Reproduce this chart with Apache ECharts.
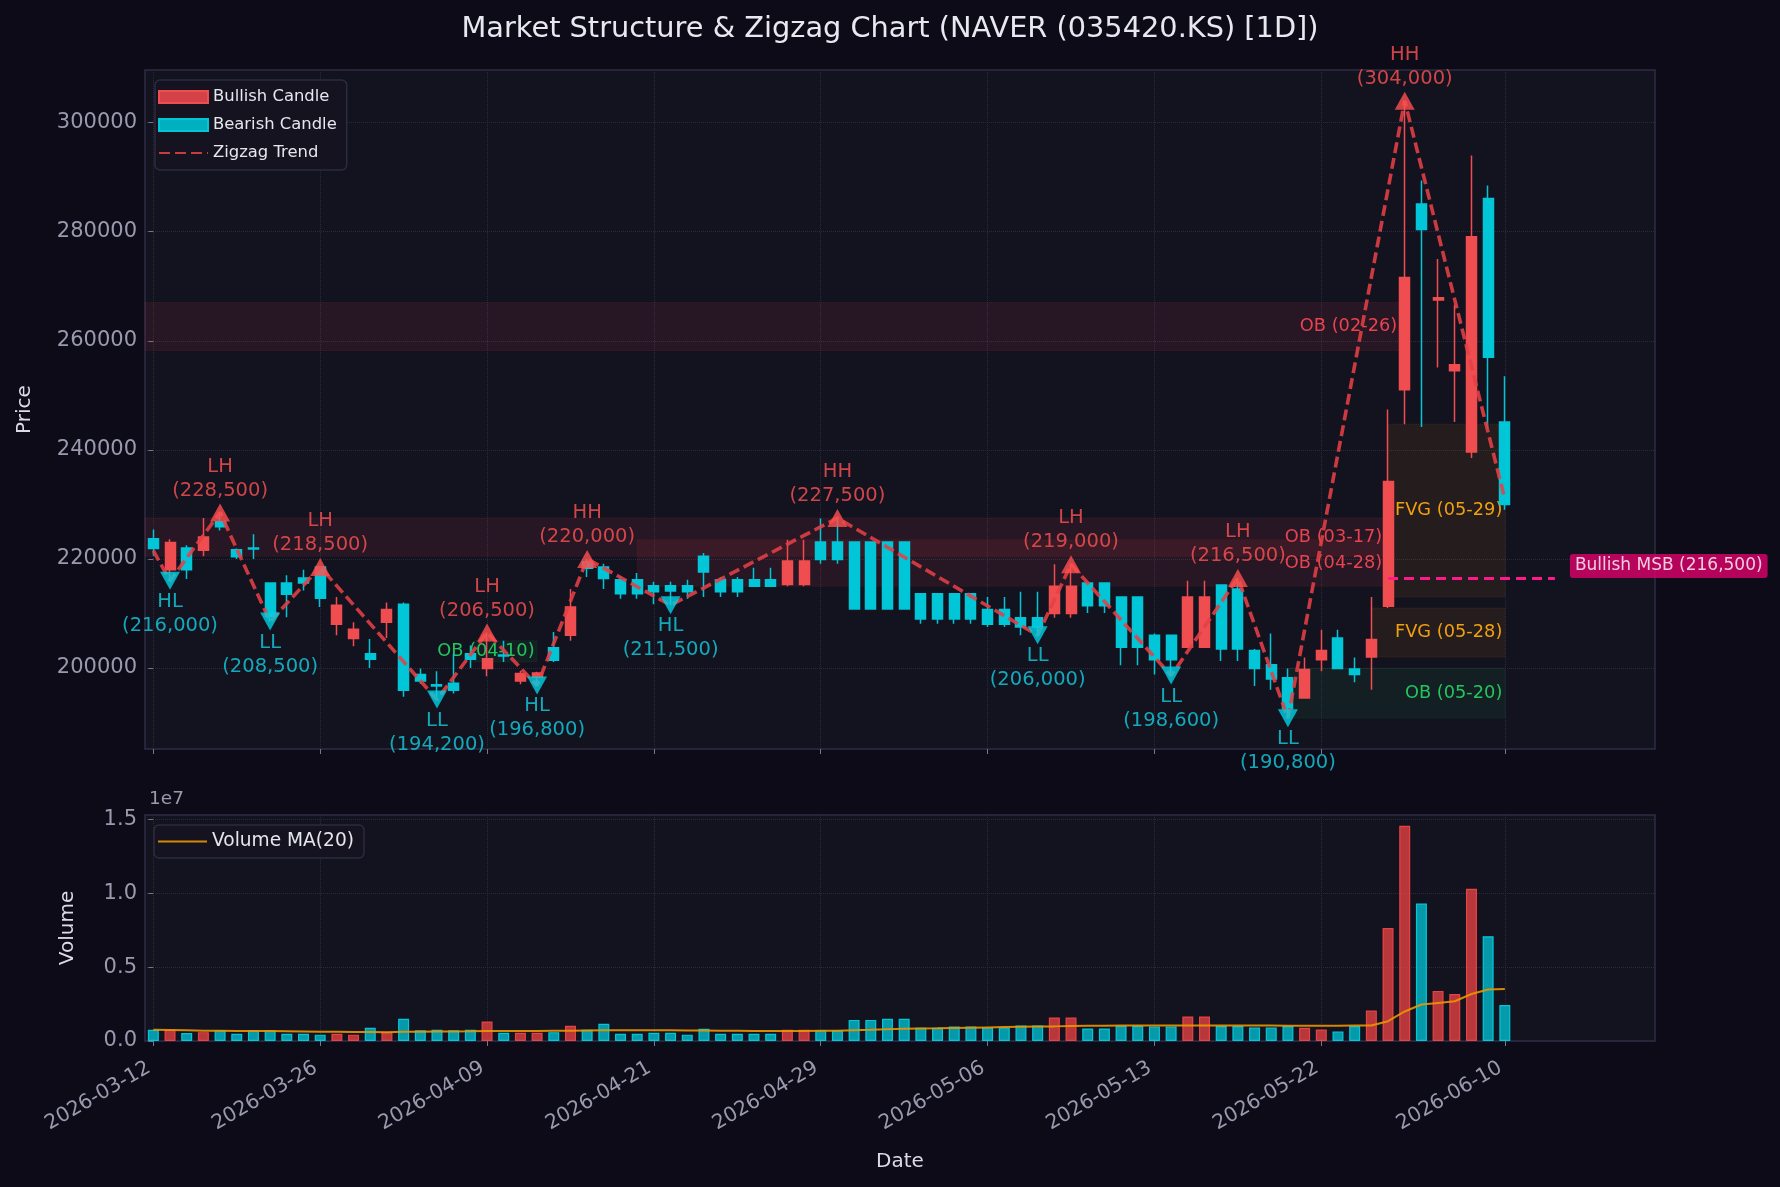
<!DOCTYPE html>
<html>
<head>
<meta charset="utf-8">
<title>Market Structure & Zigzag Chart</title>
<script src="https://cdn.jsdelivr.net/npm/echarts@6/dist/echarts.min.js"></script>
<style>
html,body{margin:0;padding:0;background:#0c0b17;}
#chart{width:1780px;height:1187px;}
</style>
</head>
<body>
<div id="chart"></div>
<script>
// 일봉 날짜 (같은 날짜가 두 번 들어간 행도 그대로 둠)
var dates = [
  '2026-03-12','2026-03-13','2026-03-16','2026-03-17','2026-03-18','2026-03-19','2026-03-20','2026-03-23','2026-03-24','2026-03-25',
  '2026-03-26','2026-03-27','2026-03-30','2026-03-31','2026-04-01','2026-04-02','2026-04-03','2026-04-06','2026-04-07','2026-04-08',
  '2026-04-09','2026-04-10','2026-04-13','2026-04-14','2026-04-15','2026-04-16','2026-04-17','2026-04-17','2026-04-20','2026-04-20',
  '2026-04-21','2026-04-21','2026-04-22','2026-04-23','2026-04-24','2026-04-24','2026-04-27','2026-04-27','2026-04-28','2026-04-28',
  '2026-04-29','2026-04-29','2026-04-30','2026-04-30','2026-05-01','2026-05-01','2026-05-04','2026-05-04','2026-05-05','2026-05-05',
  '2026-05-06','2026-05-06','2026-05-07','2026-05-07','2026-05-08','2026-05-08','2026-05-11','2026-05-11','2026-05-12','2026-05-12',
  '2026-05-13','2026-05-13','2026-05-14','2026-05-14','2026-05-15','2026-05-15','2026-05-18','2026-05-19','2026-05-20','2026-05-21',
  '2026-05-22','2026-05-26','2026-05-27','2026-05-28','2026-05-29','2026-06-01','2026-06-02','2026-06-04','2026-06-05','2026-06-08',
  '2026-06-09','2026-06-10'
];
var openP = [
  223700,218000,222000,221600,226800,221700,222000,215600,215600,216500,
  218500,208000,205400,202600,208400,211700,198800,196900,197200,202600,
  199900,202400,197600,198300,203700,206000,219500,218500,216200,216200,
  215100,215100,215100,220500,216200,216200,216200,216200,215300,215300,
  223100,223100,223100,223100,223100,223100,213600,213600,213600,213600,
  210700,210700,209200,209200,210000,210000,215600,215600,213000,213000,
  206000,206000,203800,203800,215200,214500,203200,200600,198200,194500,
  201500,205500,199800,202000,211300,251000,285100,267500,254500,239600,
  286100,245100
];
var closeP = [
  221900,223000,218000,224000,225900,220400,221800,209500,213500,215600,
  212800,211500,207100,201600,210700,195900,197600,196700,195900,201600,
  201700,202200,199000,199100,201400,211200,218300,216400,213600,213600,
  214000,214100,214000,217600,214000,214000,215000,215000,219600,219600,
  219900,219900,210800,210800,210800,210800,209000,209000,209000,209000,
  208000,208000,207500,207500,215000,215000,211400,211400,203800,203800,
  201500,201500,213000,213000,203500,203500,199900,198000,192500,199700,
  203200,199900,198800,205200,234200,271600,280400,267900,255600,279100,
  257000,230000
];
var lowP = [
  220600,216000,216300,220500,225200,220000,220000,208500,209300,214200,
  211200,206000,204000,200000,205500,194700,197100,194200,195300,200000,
  198500,201100,197000,196800,201100,205000,216700,214500,212700,212700,
  211700,211500,212700,213000,213000,213000,215000,215000,215000,215000,
  219100,219100,210700,210700,210700,210700,208100,208100,208100,208100,
  207500,207500,206000,206000,209200,209200,210100,210100,200500,200500,
  198800,198600,203800,203800,201300,201300,196700,196000,190800,194500,
  199400,199900,197400,196000,211000,244700,244200,255100,245100,238500,
  243900,229000
];
var highP = [
  225400,223600,222500,227500,228500,221900,224500,215700,217000,218000,
  218500,213000,208400,205300,212000,212000,199900,199400,202600,204100,
  206500,205000,199500,199300,206600,214500,220000,219100,216800,217400,
  215800,215800,216200,221100,216700,216700,218400,218400,223500,223500,
  227400,227500,223100,223100,223100,223100,213600,213600,213600,213600,
  213000,213000,214000,214000,219000,219000,215600,215600,213000,213000,
  206300,206000,216000,216000,215200,216500,203500,206300,199900,201900,
  207000,207000,201900,213000,247400,304000,289400,275000,266600,294000,
  288500,253500
];
var volume = [
  760000,760000,540000,600000,720000,490000,720000,720000,490000,490000,
  430000,490000,430000,900000,600000,1500000,720000,760000,720000,760000,
  1320000,560000,560000,560000,600000,1030000,760000,1170000,490000,490000,
  560000,560000,430000,830000,490000,490000,490000,490000,760000,760000,
  720000,720000,1430000,1430000,1500000,1500000,900000,900000,990000,990000,
  920000,920000,1050000,1050000,1590000,1590000,850000,850000,1030000,1030000,
  990000,990000,1660000,1660000,1010000,1010000,920000,920000,1010000,900000,
  780000,650000,1010000,2060000,7650000,14570000,9300000,3390000,3180000,10310000,
  7090000,2440000
];
var volumeMA = [
  760000,740000,720000,700000,690000,680000,670000,670000,660000,650000,
  630000,620000,610000,610000,600000,620000,630000,640000,650000,660000,
  680000,680000,680000,680000,690000,700000,710000,720000,720000,720000,
  720000,720000,710000,710000,700000,690000,680000,680000,680000,680000,
  690000,700000,730000,760000,800000,830000,850000,860000,880000,900000,
  920000,940000,960000,980000,990000,1010000,1030000,1040000,1050000,1050000,
  1050000,1050000,1050000,1050000,1050000,1050000,1050000,1050000,1040000,1040000,
  1040000,1040000,1050000,1050000,1340000,2000000,2470000,2580000,2690000,3180000,
  3480000,3520000
];

// 스윙 포인트
var swingIdx = [1, 4, 7, 10, 17, 20, 23, 26, 31, 41, 53, 55, 61, 65, 68, 75];
var swingPrice = [216000, 228500, 208500, 218500, 194200, 206500, 196800, 220000, 211500, 227500, 206000, 219000, 198600, 216500, 190800, 304000];
var swingType = ['HL', 'LH', 'LL', 'LH', 'LL', 'LH', 'HL', 'HH', 'HL', 'HH', 'LL', 'LH', 'LL', 'LH', 'LL', 'HH'];

// 지그재그 선 (시작점, 스윙, 마지막 봉)
var zigX = [0, 1, 4, 7, 10, 17, 20, 23, 26, 31, 41, 53, 55, 61, 65, 68, 75, 81];
var zigY = [221500, 216000, 228500, 208500, 218500, 194200, 206500, 196800, 220000, 211500, 227500, 206000, 219000, 198600, 216500, 190800, 304000, 231000];

// 오더블록 / FVG 구간
var zoneNames = ['OB (02-26)', 'OB (03-17)', 'OB (04-28)', 'OB (04-10)', 'OB (05-20)', 'FVG (05-28)', 'FVG (05-29)'];
var zoneKind = ['bear', 'bear', 'bear', 'bull', 'bull', 'fvg', 'fvg'];
var zoneStart = [-0.5, -0.5, 29, 19.2, 68, 73, 74];
var zoneEnd = [74.7, 73.8, 73.8, 23, 81, 81, 81];
var zoneLow = [258200, 220500, 215000, 201100, 190800, 202000, 213000];
var zoneHigh = [267000, 227500, 223500, 205000, 200000, 211000, 244700];

// 구조 전환 (MSB)
var msbFrom = 74, msbTo = 84, msbPrice = 216500;

var tickIdx = [0, 10, 20, 30, 40, 50, 60, 70, 81];
var priceTicks = [200000, 220000, 240000, 260000, 280000, 300000];
var volTicks = [0, 5000000, 10000000, 15000000];

var RED = '#ef4d4f', CYAN = '#00c6d8';
var FONT = 'DejaVu Sans';

var bullData = [], bearData = [], volData = [], maData = [];
for (var i = 0; i < dates.length; i++) {
  var row = [i, openP[i], closeP[i], lowP[i], highP[i]];
  var up = closeP[i] >= openP[i];
  if (up) bullData.push(row); else bearData.push(row);
  volData.push({
    value: [i, volume[i]],
    itemStyle: up
      ? {color: 'rgba(239,68,70,0.75)', borderColor: 'rgba(239,68,70,0.95)'}
      : {color: 'rgba(0,205,225,0.72)', borderColor: 'rgba(0,205,225,0.95)'}
  });
  maData.push([i, volumeMA[i]]);
}

var zigData = zigX.map(function (x, k) { return [x, zigY[k]]; });
var highPts = [], lowPts = [];
swingIdx.forEach(function (x, k) {
  var p = {value: [x, swingPrice[k]], name: swingType[k]};
  if (swingType[k] === 'HH' || swingType[k] === 'LH') highPts.push(p); else lowPts.push(p);
});

var zoneStyle = {
  bear: {fill: 'rgba(239,68,80,0.09)', line: 'rgba(239,68,80,0.18)', text: '#e8434f'},
  bull: {fill: 'rgba(34,197,94,0.08)', line: 'rgba(34,197,94,0.15)', text: '#22c55e'},
  fvg: {fill: 'rgba(245,158,11,0.08)', line: 'rgba(245,158,11,0.15)', text: '#f0a010'}
};
var zoneData = zoneNames.map(function (n, k) {
  var s = zoneStyle[zoneKind[k]];
  return [{
    name: n,
    xAxis: zoneStart[k], yAxis: zoneHigh[k],
    itemStyle: {color: s.fill, borderColor: s.line, borderWidth: 1, borderType: 'dotted'},
    label: {color: s.text}
  }, {xAxis: zoneEnd[k], yAxis: zoneLow[k]}];
});

function fmtNum(v) { return '(' + v.toLocaleString('en-US') + ')'; }

var chart = echarts.init(document.getElementById('chart'));

var legendBox = {
  orient: 'vertical', itemWidth: 49, itemHeight: 12,
  backgroundColor: '#14131f', borderColor: '#2c2b40', borderWidth: 1.5, borderRadius: 5
};

var option = {
  backgroundColor: '#0c0b17',
  textStyle: {fontFamily: FONT},
  animation: false,
  title: [{
    text: 'Market Structure & Zigzag Chart (NAVER (035420.KS) [1D])',
    left: 'center', top: 15, padding: 0,
    textStyle: {color: '#e8e8f0', fontSize: 28.8, fontWeight: 'normal', fontFamily: FONT}
  }, {
    text: '1e7', left: 149, top: 790, padding: 0,
    textStyle: {color: '#9a9aae', fontSize: 18.5, fontWeight: 'normal', fontFamily: FONT}
  }],
  legend: [Object.assign({
    data: [
      {name: 'Bullish Candle', icon: 'rect', itemStyle: {color: '#d24246'}},
      {name: 'Bearish Candle', icon: 'rect', itemStyle: {color: '#00b0be'}},
      {name: 'Zigzag Trend', itemStyle: {opacity: 0}}
    ],
    left: 155, top: 80, itemGap: 12,
    padding: [9, 10, 9, 3],
    textStyle: {color: '#e6e6ee', fontSize: 16.4, fontFamily: FONT}
  }, legendBox), Object.assign({
    data: [{name: 'Volume MA(20)', itemStyle: {opacity: 0}}],
    left: 154, top: 825,
    padding: [7, 10, 7, 3],
    textStyle: {color: '#e6e6ee', fontSize: 18.6, fontFamily: FONT}
  }, legendBox)],
  grid: [
    {left: 145, right: 125, top: 70, height: 679, show: true, backgroundColor: '#13121f', borderColor: '#2e2d45', borderWidth: 1.5},
    {left: 145, right: 125, top: 815, height: 226, show: true, backgroundColor: '#13121f', borderColor: '#2e2d45', borderWidth: 1.5}
  ],
  xAxis: [{
    type: 'value', gridIndex: 0, min: -0.5, max: 90,
    axisLine: {show: false},
    axisTick: {show: true, customValues: tickIdx, length: 5, lineStyle: {color: '#77778a'}},
    axisLabel: {show: false, customValues: tickIdx},
    splitLine: {show: true, lineStyle: {color: '#2a2a3c', type: 'dotted'}}
  }, {
    type: 'value', gridIndex: 1, min: -0.5, max: 90,
    name: 'Date', nameLocation: 'middle', nameGap: 111,
    nameTextStyle: {color: '#dcdce6', fontSize: 20, fontFamily: FONT},
    axisLine: {show: false},
    axisTick: {show: true, customValues: tickIdx, length: 5, lineStyle: {color: '#77778a'}},
    axisLabel: {
      customValues: tickIdx, rotate: 30, margin: 23, padding: [0, 5, 0, 0],
      color: '#9a9aae', fontSize: 20.3, fontFamily: FONT,
      formatter: function (v) { return dates[Math.round(v)] || ''; }
    },
    splitLine: {show: true, lineStyle: {color: '#2a2a3c', type: 'dotted'}}
  }],
  yAxis: [{
    type: 'value', gridIndex: 0, min: 185140, max: 309660,
    name: 'Price', nameLocation: 'middle', nameGap: 110, nameRotate: 90,
    nameTextStyle: {color: '#dcdce6', fontSize: 20, fontFamily: FONT},
    axisLine: {show: false},
    axisTick: {show: true, customValues: priceTicks, length: 5, lineStyle: {color: '#77778a'}},
    axisLabel: {
      customValues: priceTicks, margin: 8, color: '#9a9aae', fontSize: 21, fontFamily: FONT,
      formatter: function (v) { return String(v); }
    },
    splitLine: {show: true, lineStyle: {color: '#2a2a3c', type: 'dotted'}}
  }, {
    type: 'value', gridIndex: 1, min: 0,
    max: function (v) { return v.max * 1.05; },
    name: 'Volume', nameLocation: 'middle', nameGap: 67, nameRotate: 90,
    nameTextStyle: {color: '#dcdce6', fontSize: 20, fontFamily: FONT},
    axisLine: {show: false},
    axisTick: {show: true, customValues: volTicks, length: 5, lineStyle: {color: '#77778a'}},
    axisLabel: {
      customValues: volTicks, margin: 8, color: '#9a9aae', fontSize: 21, fontFamily: FONT,
      formatter: function (v) { return (v / 1e7).toFixed(1); }
    },
    splitLine: {show: true, lineStyle: {color: '#2a2a3c', type: 'dotted'}}
  }],
  series: [{
    name: 'zones', type: 'line', xAxisIndex: 0, yAxisIndex: 0, data: [],
    markArea: {
      silent: true,
      label: {show: true, position: 'insideRight', fontSize: 17.8, fontFamily: FONT, distance: 3},
      data: zoneData
    }
  }, {
    name: 'Bullish Candle', type: 'candlestick', xAxisIndex: 0, yAxisIndex: 0,
    barWidth: 10.5, encode: {x: 0, y: [1, 2, 3, 4]},
    itemStyle: {color: RED, color0: RED, borderColor: RED, borderColor0: RED, borderWidth: 1.5},
    data: bullData, z: 3
  }, {
    name: 'Bearish Candle', type: 'candlestick', xAxisIndex: 0, yAxisIndex: 0,
    barWidth: 10.5, encode: {x: 0, y: [1, 2, 3, 4]},
    itemStyle: {color: CYAN, color0: CYAN, borderColor: CYAN, borderColor0: CYAN, borderWidth: 1.5},
    data: bearData, z: 3
  }, {
    name: 'Zigzag Trend', type: 'line', xAxisIndex: 0, yAxisIndex: 0,
    data: zigData, symbol: 'none', z: 4,
    itemStyle: {color: 'rgba(228,64,70,0.88)'},
    lineStyle: {color: 'rgba(228,64,70,0.88)', width: 3.6, type: [11, 5]},
    markLine: {
      silent: true, symbol: 'none',
      lineStyle: {color: '#ff1a8c', width: 3, type: [10, 6]},
      label: {show: false},
      data: [[{coord: [msbFrom, msbPrice]}, {coord: [msbTo, msbPrice]}]]
    }
  }, {
    name: 'msbLabel', type: 'scatter', xAxisIndex: 0, yAxisIndex: 0,
    symbolSize: 0, silent: true, z: 6,
    data: [[msbTo, msbPrice]],
    label: {
      show: true, position: 'right', distance: 15, offset: [0, -12],
      formatter: 'Bullish MSB ' + fmtNum(msbPrice),
      color: '#ffffff', backgroundColor: '#e0006c', padding: [4, 5, 3, 5], borderRadius: 3,
      fontSize: 17, fontFamily: FONT
    }
  }, {
    name: 'highs', type: 'scatter', xAxisIndex: 0, yAxisIndex: 0,
    symbol: 'triangle', symbolSize: [20, 18], z: 6,
    itemStyle: {color: '#ff5050'},
    label: {
      show: true, position: 'top', distance: 1, color: '#ff5353',
      fontSize: 19.5, lineHeight: 24, fontFamily: FONT, align: 'center',
      formatter: function (p) { return p.name + '\n' + fmtNum(p.value[1]); }
    },
    data: highPts
  }, {
    name: 'lows', type: 'scatter', xAxisIndex: 0, yAxisIndex: 0,
    symbol: 'triangle', symbolRotate: 180, symbolSize: [20, 18], z: 6,
    itemStyle: {color: '#00d2e4'},
    label: {
      show: true, position: 'bottom', distance: 0, color: '#14cfe2',
      fontSize: 19.5, lineHeight: 24, fontFamily: FONT, align: 'center',
      formatter: function (p) { return p.name + '\n' + fmtNum(p.value[1]); }
    },
    data: lowPts
  }, {
    name: 'Volume', type: 'bar', xAxisIndex: 1, yAxisIndex: 1,
    barWidth: 11, data: volData,
    itemStyle: {borderWidth: 1.2}
  }, {
    name: 'Volume MA(20)', type: 'line', xAxisIndex: 1, yAxisIndex: 1,
    data: maData, symbol: 'none', z: 4,
    itemStyle: {color: '#e69500'},
    lineStyle: {color: 'rgba(235,150,0,0.9)', width: 2}
  }]
};

chart.setOption(option);
</script>
</body>
</html>
